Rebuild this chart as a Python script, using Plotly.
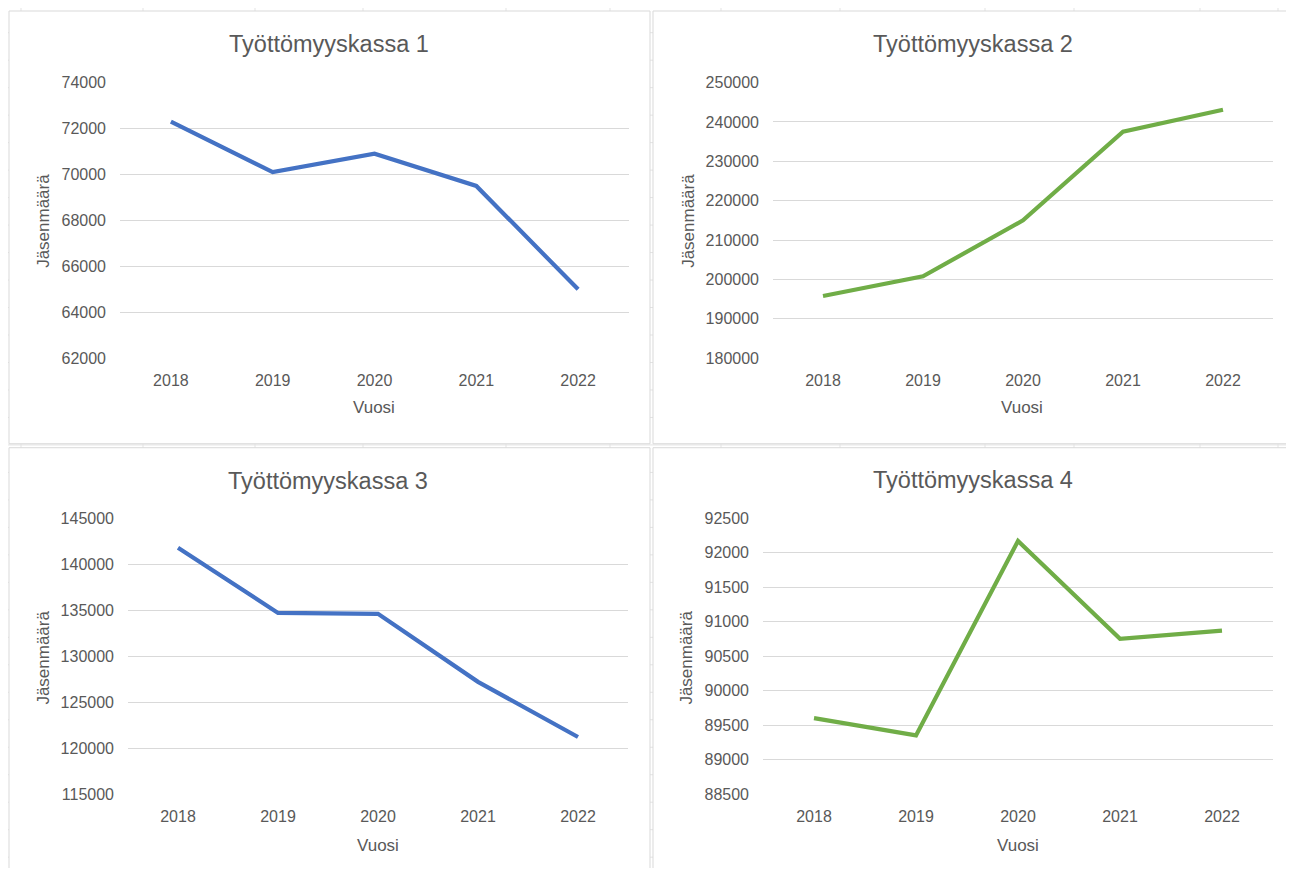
import plotly.graph_objects as go

# page body has an 8px margin; keep the figure inside the 1294x876 window
OFF_X = 8
W, H = 1294 - 16, 876 - 16
# measured vertical mapping of figure pixels onto the photographed page
OFF_Y, SY = 15.0, 0.982

years = ["2018", "2019", "2020", "2021", "2022"]
titles = ["Työttömyyskassa 1", "Työttömyyskassa 2", "Työttömyyskassa 3", "Työttömyyskassa 4"]
kassa1 = [72300, 70100, 70900, 69500, 65000]
kassa2 = [195800, 200800, 215000, 237500, 243100]
kassa3 = [141800, 134700, 134600, 127200, 121200]
kassa4 = [89600, 89350, 92170, 90750, 90870]
y_ranges = [(62000, 74000, 2000), (180000, 250000, 10000), (115000, 145000, 5000), (88500, 92500, 500)]
colors = ["#4472C4", "#70AD47", "#4472C4", "#70AD47"]
x_title = "Vuosi"
y_title = "Jäsenmäärä"

series = [kassa1, kassa2, kassa3, kassa4]

# layout in screen-pixel coordinates of the reference
plot_boxes = [(120, 81, 629, 358), (773, 81, 1273, 358), (128, 517, 628, 794), (763, 517, 1273, 794)]
panels = [(9, 10, 650, 443), (653, 10, 1293, 443), (9, 447, 650, 890), (653, 447, 1293, 890)]
title_pos = [(329, 43), (973, 43), (328, 480), (973, 479)]
ytitle_pos = [(44, 220), (689, 220), (44, 657), (687, 657)]
xtitle_pos = [(374, 407), (1022, 407), (378, 845), (1018, 845)]

def px(x):
    return (x - OFF_X) / W

def py(y):
    return 1 - ((y - OFF_Y) / SY) / H

FONT = "Liberation Sans, Arial, sans-serif"
GRAY = "#595959"
GRID = "#d9d9d9"

fig = go.Figure()
shapes = []
annotations = []

# spreadsheet cell grid behind the chart panels
for cx in [21, 143, 255, 363, 506, 610, 721, 840, 985, 1074, 1200, 1278]:
    shapes.append(dict(type="line", xref="paper", yref="paper", x0=px(cx), x1=px(cx), y0=-0.05, y1=1.05,
                       line=dict(color="#e3e3e3", width=1), layer="below"))
ry = 31.7
while ry < 876:
    shapes.append(dict(type="line", xref="paper", yref="paper", x0=-0.05, x1=1.05, y0=py(ry), y1=py(ry),
                       line=dict(color="#e3e3e3", width=1), layer="below"))
    ry += 27.5

for (x0, y0, x1, y1) in panels:
    shapes.append(dict(type="rect", xref="paper", yref="paper", x0=px(x0), x1=px(x1), y0=py(y1), y1=py(y0),
                       line=dict(color=GRID, width=1), fillcolor="white", layer="below"))

layout = dict(width=W, height=H, margin=dict(l=0, r=0, t=0, b=0),
              paper_bgcolor="white", plot_bgcolor="rgba(0,0,0,0)", showlegend=False)

for i in range(4):
    xa = "xaxis" if i == 0 else f"xaxis{i+1}"
    ya = "yaxis" if i == 0 else f"yaxis{i+1}"
    xr = "x" if i == 0 else f"x{i+1}"
    yr = "y" if i == 0 else f"y{i+1}"
    fig.add_trace(go.Scatter(x=years, y=series[i], mode="lines", xaxis=xr, yaxis=yr,
                             line=dict(color=colors[i], width=4.2), hoverinfo="x+y"))
    bx0, by0, bx1, by1 = plot_boxes[i]
    lo, hi, step = y_ranges[i]
    span = hi - lo
    layout[xa] = dict(domain=[px(bx0), px(bx1)], anchor=yr, type="category", range=[-0.5, 4.5],
                      showgrid=False, zeroline=False, showline=False, ticks="",
                      tickfont=dict(family=FONT, size=16, color=GRAY), ticklabelstandoff=10)
    layout[ya] = dict(domain=[py(by1), py(by0)], anchor=xr, range=[lo - span * 0.002, hi + span * 0.002],
                      tick0=lo, dtick=step, tickformat="d", showgrid=True, gridcolor=GRID, gridwidth=1,
                      zeroline=False, showline=False, ticks="",
                      tickfont=dict(family=FONT, size=16, color=GRAY), ticklabelstandoff=13)
    tx, ty = title_pos[i]
    annotations.append(dict(text=titles[i], x=px(tx), y=py(ty), xref="paper", yref="paper",
                            showarrow=False, xanchor="center", yanchor="middle",
                            font=dict(family=FONT, size=23.5, color=GRAY)))
    ax, ay = ytitle_pos[i]
    annotations.append(dict(text=y_title, x=px(ax), y=py(ay), xref="paper", yref="paper",
                            showarrow=False, xanchor="center", yanchor="middle", textangle=-90,
                            font=dict(family=FONT, size=17, color=GRAY)))
    vx, vy = xtitle_pos[i]
    annotations.append(dict(text=x_title, x=px(vx), y=py(vy), xref="paper", yref="paper",
                            showarrow=False, xanchor="center", yanchor="middle",
                            font=dict(family=FONT, size=17, color=GRAY)))

layout["shapes"] = shapes
layout["annotations"] = annotations
fig.update_layout(**layout)
fig.write_html("out.html")
